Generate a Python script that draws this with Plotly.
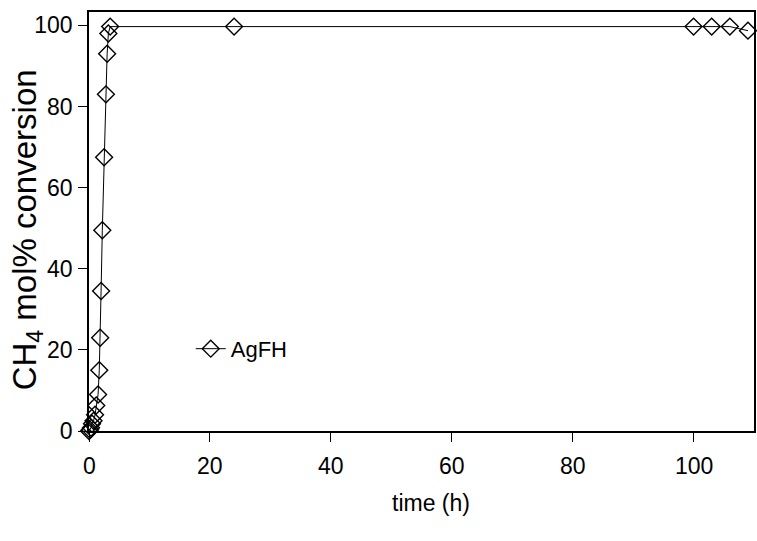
import plotly.graph_objects as go

# Methane conversion over time for the AgFH catalyst
time_h = [0, 0.17, 0.33, 0.5, 0.75, 1.0, 1.2, 1.5, 1.7, 1.85, 2.0, 2.2, 2.5, 2.8, 3.0, 3.2, 3.5,
          24, 100, 103, 106, 109]
conversion = [0, 0.3, 0.8, 1.8, 2.5, 4.0, 6.3, 9.0, 15.0, 23.0, 34.5, 49.5, 67.5, 83.0, 93.0, 98.0, 99.7,
              99.7, 99.7, 99.7, 99.7, 98.7]

x_ticks = [0, 20, 40, 60, 80, 100]
y_ticks = [0, 20, 40, 60, 80, 100]
x_range = [0, 110]
y_range = [0, 103.3]

narrow = "Liberation Sans Narrow, Arial Narrow, Liberation Sans, Arial, sans-serif"
regular = "Liberation Sans, Arial, sans-serif"

fig = go.Figure()
fig.add_trace(go.Scatter(
    x=time_h, y=conversion, mode="lines+markers", name="AgFH",
    line=dict(color="black", width=1),
    marker=dict(symbol="diamond-open", size=13, color="black", line=dict(width=1.4, color="black")),
    cliponaxis=False,
))

# time labels hang well below the tick marks, so they are placed on the x scale by hand
x_labels = [
    dict(text=str(v), x=v, xref="x", yref="paper", y=-0.0835, xanchor="center", yanchor="middle",
         showarrow=False, font=dict(family=narrow, size=23, color="black"))
    for v in x_ticks
]

fig.update_layout(
    width=757, height=541,
    margin=dict(l=89, r=1, t=12, b=110),
    paper_bgcolor="white", plot_bgcolor="white",
    showlegend=True,
    legend=dict(x=0.153, y=0.196, xanchor="left", yanchor="middle",
                bgcolor="rgba(0,0,0,0)", font=dict(family=narrow, size=22, color="black"),
                itemwidth=30),
    xaxis=dict(range=x_range, tickvals=x_ticks, ticks="outside", ticklen=9, tickwidth=1,
               tickcolor="black", showticklabels=False, showgrid=False, zeroline=False,
               showline=True, linecolor="black", linewidth=1.5, mirror=True),
    yaxis=dict(range=y_range, tickvals=y_ticks, ticks="outside", ticklen=9, tickwidth=1,
               tickcolor="black", showgrid=False, zeroline=False, showline=True, linecolor="black",
               linewidth=1.5, mirror=True, tickfont=dict(family=narrow, size=23, color="black"),
               ticklabelstandoff=1),
    annotations=x_labels + [
        dict(text="time (h)", xref="paper", yref="paper", x=0.514, y=-0.172,
             xanchor="center", yanchor="middle", showarrow=False,
             font=dict(family=narrow, size=23, color="black")),
        dict(text="CH<sub>4</sub> mol% conversion", xref="paper", yref="paper", x=-0.094, y=0.48,
             xanchor="center", yanchor="middle", textangle=-90, showarrow=False,
             font=dict(family=regular, size=33, color="black")),
    ],
)

fig.write_html("out.html")
